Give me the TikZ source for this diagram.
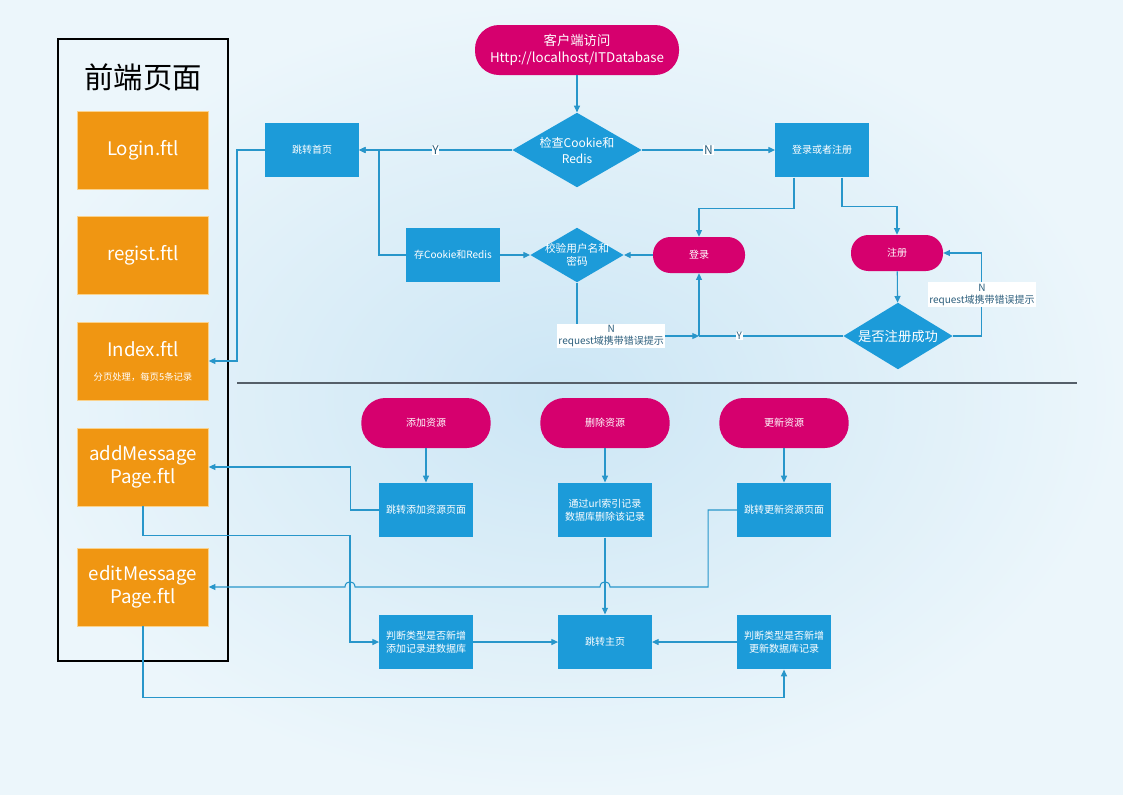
\documentclass[tikz,border=0pt]{standalone}
\usepackage{fontspec}
\setmainfont{Noto Sans CJK SC}
\usetikzlibrary{arrows.meta,shapes.geometric}
\definecolor{bgin}{RGB}{204,230,245}
\definecolor{bgout}{RGB}{236,246,251}
\definecolor{flowblue}{RGB}{28,155,217}
\definecolor{linkblue}{RGB}{40,150,202}
\definecolor{startred}{RGB}{214,0,110}
\definecolor{pageorange}{RGB}{240,150,18}
\definecolor{pageedge}{RGB}{250,210,140}
\definecolor{labelgray}{RGB}{45,95,125}
\definecolor{rulegray}{RGB}{85,95,105}
\tikzset{>/.tip={Triangle[length=5pt,width=4.5pt]},
  proc/.style={fill=flowblue, text=white, minimum width=70pt, minimum height=41pt, inner sep=1pt, align=center, font=\fontsize{7.5}{10}\selectfont},
  term/.style={fill=startred, text=white, minimum width=97pt, minimum height=37.5pt, rounded corners=18pt, align=center, font=\fontsize{7.5}{10}\selectfont},
  smallterm/.style={term, minimum width=69pt, minimum height=27pt, rounded corners=13pt},
  decision/.style={diamond, fill=flowblue, text=white, inner sep=-6pt, align=center},
  page/.style={fill=pageorange, draw=pageedge, line width=0.6pt, text=white, minimum width=98pt, minimum height=58.5pt, align=center, font=\fontsize{14}{17}\selectfont},
  yn/.style={fill=white, inner sep=0.6pt, text=labelgray, font=\fontsize{9}{10}\selectfont},
  errlabel/.style={fill=white, inner sep=1pt, align=center, text=labelgray, font=\fontsize{7.5}{9}\selectfont},
  link/.style={draw=linkblue, line width=0.8pt}}

\begin{document}
\begin{tikzpicture}[x=0.75pt, y=-0.75pt]
\shade[inner color=bgin, outer color=bgout] (0,0) rectangle (1123,794);
\useasboundingbox (0,0) rectangle (1123,794);

\node[draw=black, line width=1.2pt, minimum width=127.5pt, minimum height=466.5pt] (front) at (143,350) {};
\node[font=\fontsize{22}{26}\selectfont] (fronttitle) at (143,77) {前端页面};
\node[page] (loginpage) at (143,150) {Login.ftl};
\node[page] (regpage) at (143,255) {regist.ftl};
\node[page] (index) at (143,361) {Index.ftl\\[1pt]{\fontsize{7}{9}\selectfont 分页处理，每页5条记录}};
\node[page] (addmsg) at (143,467) {addMessage\\Page.ftl};
\node[page] (editmsg) at (143,587) {editMessage\\Page.ftl};

\node[term, minimum width=153pt, font=\fontsize{10}{13}\selectfont] (start) at (577,50) {客户端访问\\Http://localhost/ITDatabase};
\node[decision, minimum width=97pt, minimum height=56pt, aspect=1.72, font=\fontsize{9}{12}\selectfont] (check) at (577,150) {检查Cookie和\\Redis};
\node[proc] (home) at (312,150) {跳转首页};
\node[proc] (choose) at (822,150) {登录或者注册};
\node[proc] (save) at (453,255) {存Cookie和Redis};
\node[decision, minimum width=70pt, minimum height=41pt, aspect=1.7, font=\fontsize{8}{10}\selectfont] (verify) at (577,255) {校验用户名和\\密码};
\node[smallterm] (login) at (699,255) {登录};
\node[smallterm] (reg) at (897,253) {注册};
\node[decision, minimum width=82pt, minimum height=50pt, aspect=1.65, font=\fontsize{10}{12}\selectfont] (ok) at (898,336) {是否注册成功};
\path (login.south |- ok.west) coordinate (loginjoin);

\draw[line width=1.2pt, rulegray] (237,383) -- (1077,383);

\node[term] (add) at (426,423) {添加资源};
\node[term] (del) at (605,423) {删除资源};
\node[term] (upd) at (784,423) {更新资源};
\node[proc] (addpage) at (426,510) {跳转添加资源页面};
\node[proc] (delpage) at (605,510) {通过url索引记录\\数据库删除该记录};
\node[proc] (updpage) at (784,510) {跳转更新资源页面};
\node[proc] (addjudge) at (426,642) {判断类型是否新增\\添加记录进数据库};
\node[proc] (main) at (605,642) {跳转主页};
\node[proc] (updjudge) at (784,642) {判断类型是否新增\\更新数据库记录};

\draw[link,->] (start) -- (check);
\draw[link,->] (check) -- node[yn] {Y} (home);
\draw[link,->] (check) -- node[yn] {N} (choose);
\draw[link,->] (home.west) -- (237,150) |- (index.east);
\draw[link,->] (save.west) -| (379,150) -- (home.east);
\draw[link,->] (save) -- (verify);
\draw[link,->] (login) -- (verify);
\draw[link,->] ([xshift=-21pt]choose.south) -- ++(0,31) -| (login.north);
\draw[link,->] ([xshift=15pt]choose.south) -- ++(0,29) -| (reg.north);
\draw[link,->] (reg) -- (ok);
\draw[link,->] (ok.east) -- ++(29,0) -- node[errlabel] {N\\request域携带错误提示} ++(0,-83) -- (reg.east);
\draw[link,->] (verify.south) |- node[errlabel, pos=0.64] {N\\request域携带错误提示} (loginjoin);
\draw[link] (ok.west) -- node[yn, pos=0.72, font=\fontsize{7.5}{9}\selectfont] {Y} (loginjoin);
\draw[link,->] (loginjoin) -- (login.south);

\draw[link,->] (add) -- (addpage);
\draw[link,->] (del) -- (delpage);
\draw[link,->] (upd) -- (updpage);
\draw[link,->] (addpage.west) -- ++(-29,0) |- (addmsg.east);
\draw[link,->] (addmsg.south) -- ++(0,29) -- ++(207,0) |- (addjudge.west);
\draw[link,->] (updpage.west) -- ++(-29,0) |- (610,587) .. controls (610,580) and (600,580) .. (600,587) -- (355,587) .. controls (355,580) and (345,580) .. (345,587) -- (editmsg.east);
\draw[link,->] (delpage) -- (main);
\draw[link,->] (addjudge) -- (main);
\draw[link,->] (updjudge) -- (main);
\draw[link,->] (editmsg.south) -- ++(0,71) -| (updjudge.south);
\end{tikzpicture}
\end{document}
